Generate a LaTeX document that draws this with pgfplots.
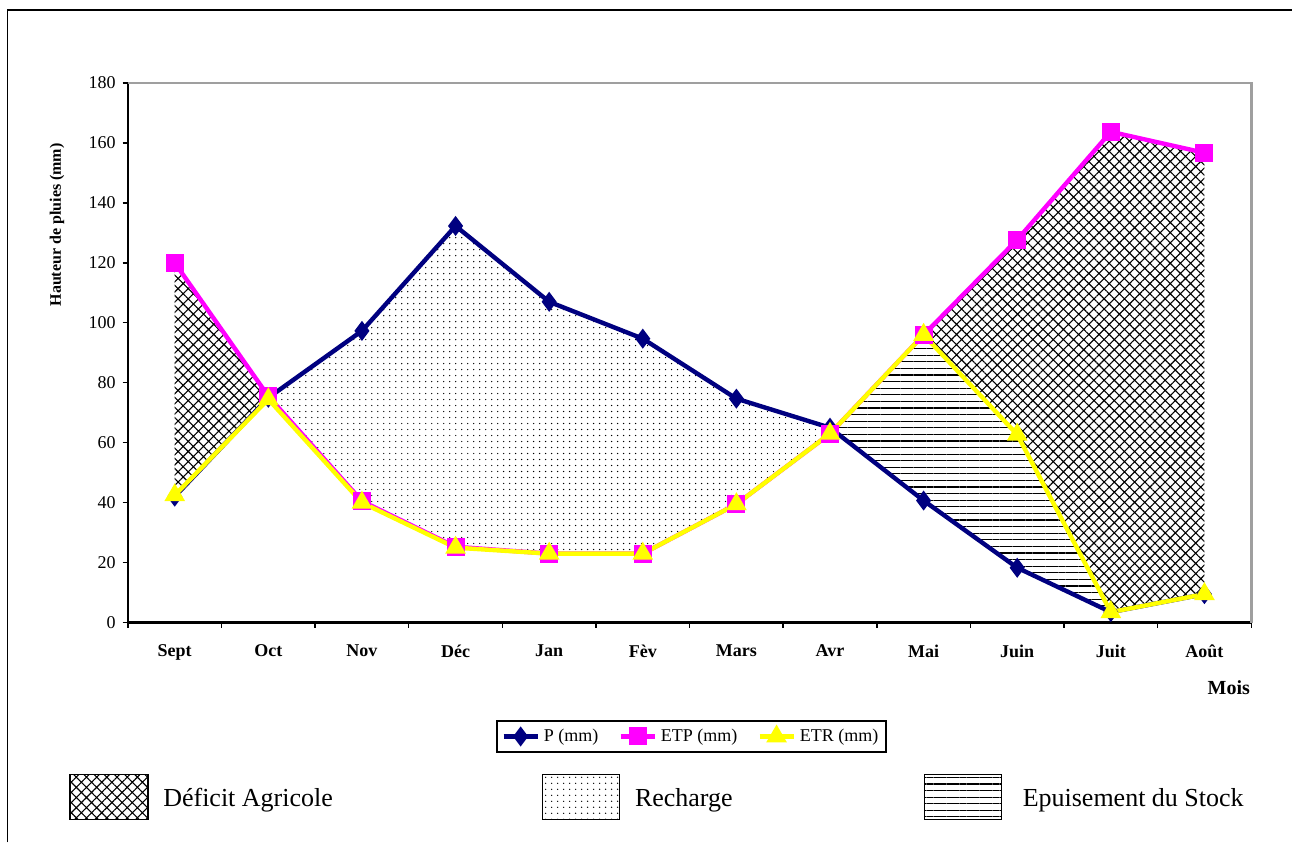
\documentclass[border=0pt]{standalone}
\usepackage{fontspec}
\setmainfont{Liberation Serif}
\usepackage{pgfplots}
\pgfplotsset{compat=1.18}
\usepackage{pgfplotstable}
\usepgfplotslibrary{fillbetween}
\usetikzlibrary{patterns,patterns.meta}

\definecolor{pnavy}{RGB}{0,0,128}
\definecolor{pmag}{RGB}{255,0,255}
\definecolor{pyel}{RGB}{255,255,0}

\pgfplotstableread{
x P ETP ETR
0 42 120 42.5
1 75 75.5 74.5
2 97.3 40.5 40
3 132.3 25.3 25
4 107 23 23
5 94.7 23 23
6 74.7 39.5 39.5
7 65 63 63
8 40.7 96 96
9 18.3 127.7 62.7
10 3.5 163.7 3.5
11 9.5 156.7 9.5
}\datatable

\tikzset{
  cross/.style={pattern={Hatch[angle=45,distance=3.6pt,line width=0.55pt]}},
  dotp/.style={pattern={Dots[distance=3pt,radius=0.35pt]}},
  hlin/.style={pattern={Lines[angle=0,distance=3.3pt,line width=0.6pt]}},
}

\begin{document}
\begin{tikzpicture}
\path (0,0) rectangle (646.5pt,421.5pt);
\draw[line width=0.8pt] (3.75pt,0pt) -- (3.75pt,416.5pt) -- (646.5pt,416.5pt);

\begin{axis}[
  at={(64pt,110pt)}, anchor=south west,
  scale only axis, width=562pt, height=270pt,
  xmin=-0.5, xmax=11.5, ymin=0, ymax=180,
  axis lines*=left,
  axis line style={black, line width=1.3pt},
  tick align=outside,
  major tick length=2.6pt, minor tick length=2.6pt,
  every tick/.style={black, line width=0.7pt},
  xtick={0,...,11},
  xticklabels={Sept,Oct,Nov,Déc,Jan,Fèv,Mars,Avr,Mai,Juin,Juit,Août},
  major x tick style={draw=none},
  minor xtick={-0.5,0.5,...,11.5},
  ytick={0,20,...,180},
  /pgf/number format/assume math mode=true,
  xticklabel style={font=\fontsize{9}{10}\selectfont\bfseries, yshift=-5pt},
  yticklabel style={font=\fontsize{9}{10}\selectfont},
  ylabel={Hauteur de pluies (mm)},
  ylabel style={at={(axis description cs:-0.0632,0.737)}, anchor=center, font=\fontsize{8}{9}\selectfont\bfseries},
  xlabel={Mois},
  xlabel style={at={(axis description cs:0.98,-0.12)}, anchor=center, font=\fontsize{10}{11}\selectfont\bfseries},
  legend columns=3,
  legend style={at={(0.502,-0.211)}, anchor=center, draw=black, line width=1pt,
    font=\fontsize{9}{10}\selectfont, inner sep=2pt,
    /tikz/every even column/.append style={column sep=8pt}},
  clip=false,
]
\addplot[draw=none, forget plot, name path=p] table[x=x,y=P] {\datatable};
\addplot[draw=none, forget plot, name path=etp] table[x=x,y=ETP] {\datatable};
\addplot[draw=none, forget plot, name path=etr] table[x=x,y=ETR] {\datatable};

\addplot[cross, draw=none, forget plot] fill between[of=etp and etr, soft clip={domain=0:1}];
\addplot[cross, draw=none, forget plot] fill between[of=etp and etr, soft clip={domain=8:11}];
\addplot[dotp, draw=none, forget plot] fill between[of=p and etr, soft clip={domain=1:7.034}];
\addplot[hlin, draw=none, forget plot] fill between[of=p and etr, soft clip={domain=7.034:10}];

\draw[gray!75, line width=1.3pt] (rel axis cs:0,1) -- (rel axis cs:1,1) -- (rel axis cs:1,0);

\addplot[pnavy, line width=2.2pt, mark=diamond*, mark size=3.2pt, mark options={solid}] table[x=x,y=P] {\datatable};
\addlegendentry{P (mm)}
\addplot[pmag, line width=2.2pt, mark=square*, mark size=3.4pt] table[x=x,y=ETP] {\datatable};
\addlegendentry{ETP (mm)}
\addplot[pyel, line width=2.2pt, mark=triangle*, mark size=3.8pt] table[x=x,y=ETR] {\datatable};
\addlegendentry{ETR (mm)}
\end{axis}

% pattern legend
\draw[cross, line width=0.8pt] (35pt,11.5pt) rectangle (74pt,34pt);
\node[anchor=west, font=\fontsize{13}{14}\selectfont, inner sep=0pt] at (81.5pt,21pt) {Déficit Agricole};
\draw[dotp, line width=0.8pt] (271.5pt,11.5pt) rectangle (310pt,34pt);
\node[anchor=west, font=\fontsize{13}{14}\selectfont, inner sep=0pt] at (317.5pt,21pt) {Recharge};
\draw[hlin, line width=0.8pt] (462.5pt,11.5pt) rectangle (501pt,34pt);
\node[anchor=west, font=\fontsize{13}{14}\selectfont, inner sep=0pt] at (511.5pt,21pt) {Epuisement du Stock};
\end{tikzpicture}
\end{document}
